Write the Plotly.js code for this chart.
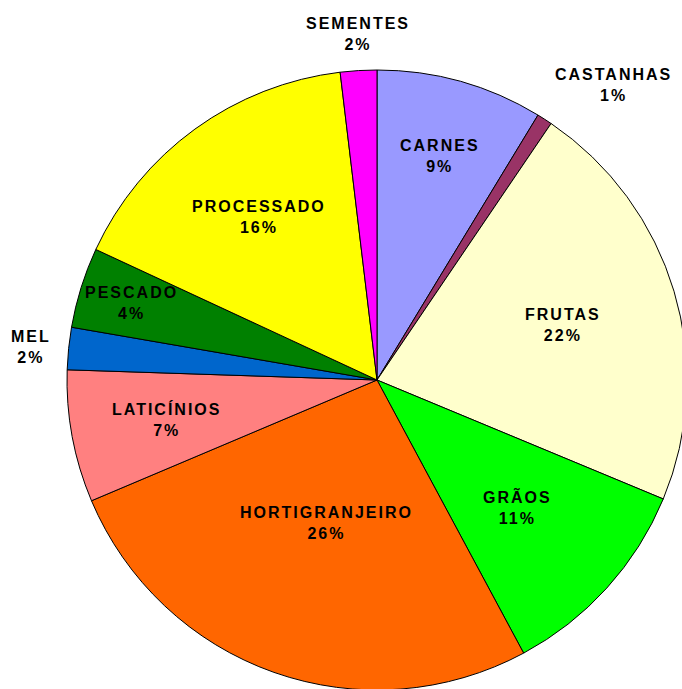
<!DOCTYPE html>
<html><head><meta charset="utf-8">
<script src="https://cdn.plot.ly/plotly-3.0.1.min.js"></script>
<style>
html,body{margin:0;padding:0;overflow:hidden;background:#fff}
.annotation-text{letter-spacing:2px}
</style>
</head><body>
<div id="chart" style="width:700px;height:700px"></div>
<script>
const categories = ["CARNES","CASTANHAS","FRUTAS","GRÃOS","HORTIGRANJEIRO","LATICÍNIOS","MEL","PESCADO","PROCESSADO","SEMENTES"];
const values = [8.7, 0.8, 21.8, 10.9, 26.5, 6.9, 2.2, 4.2, 16.2, 1.9];
const colors = ["#9999FF","#993366","#FFFFCC","#00FF00","#FF6600","#FF8080","#0066CC","#008000","#FFFF00","#FF00FF"];
// label placement: fraction of radius for inside labels, null = outside the pie
const labelRadius = [0.75, null, 0.625, 0.61, 0.49, 0.69, null, 0.83, 0.65, null];

const W = 700, H = 700;
const dom = {x: [67/W, 687/W], y: [1 - 690/H, 1 - 70/H]};
const font = {family: "Liberation Sans, Arial, sans-serif", size: 16, color: "#000", weight: "bold"};

const total = values.reduce((a, b) => a + b, 0);
const cx = (dom.x[0] + dom.x[1]) / 2 * W, cy = (1 - (dom.y[0] + dom.y[1]) / 2) * H;
const R = Math.min((dom.x[1] - dom.x[0]) * W, (dom.y[1] - dom.y[0]) * H) / 2;
const annotations = [];
let cum = 0;
values.forEach((v, i) => {
  const mid = (cum + v / 2) / total * 2 * Math.PI;
  cum += v;
  const s = Math.sin(mid), c = Math.cos(mid);
  const text = categories[i] + "<br>" + Math.round(v / total * 100) + "%";
  const inside = labelRadius[i] !== null;
  const d = inside ? R * labelRadius[i] : R + 16;
  const px = cx + d * s, py = cy - d * c;
  annotations.push({
    x: px / W, y: 1 - py / H, xref: "paper", yref: "paper",
    text: text, showarrow: false, font: font, align: "center",
    xanchor: inside || Math.abs(s) < 0.3 ? "center" : (s > 0 ? "left" : "right"),
    yanchor: inside || Math.abs(c) < 0.3 ? "middle" : (c > 0 ? "bottom" : "top")
  });
});

Plotly.newPlot("chart", [{
  type: "pie",
  labels: categories,
  values: values,
  sort: false,
  direction: "clockwise",
  rotation: 0,
  marker: {colors: colors, line: {color: "#000", width: 1}},
  textinfo: "none",
  hoverinfo: "none",
  domain: dom,
  showlegend: false
}], {
  width: W, height: H,
  margin: {l: 0, r: 0, t: 0, b: 0},
  paper_bgcolor: "#fff",
  showlegend: false,
  annotations: annotations
}, {displayModeBar: false, staticPlot: true});
</script>
</body></html>
